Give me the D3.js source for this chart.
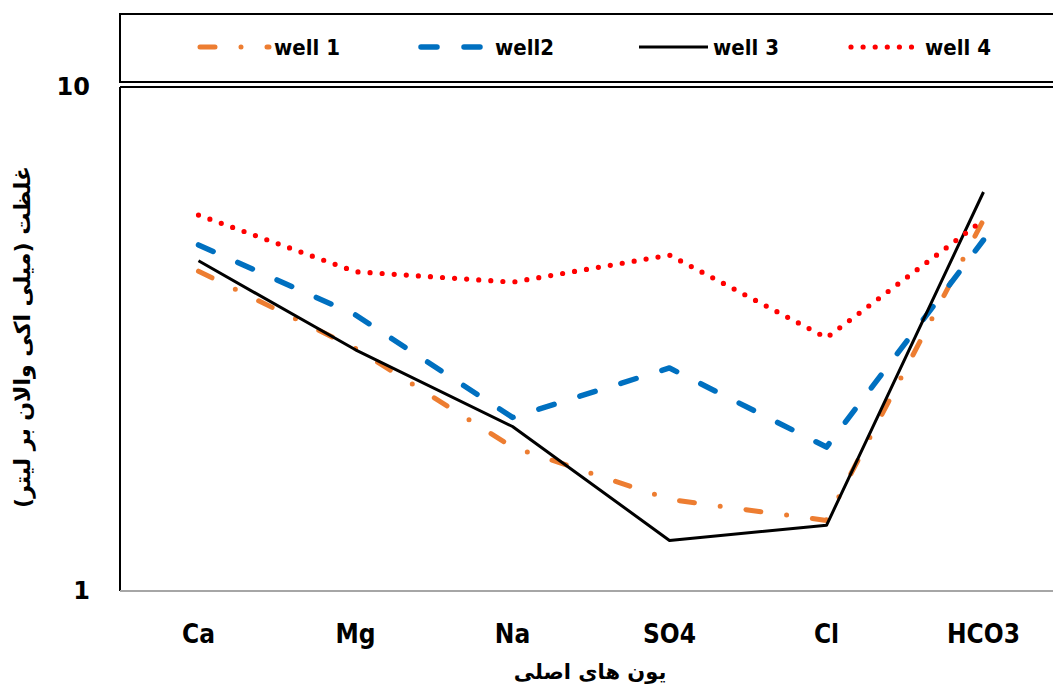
<!DOCTYPE html>
<html>
<head>
<meta charset="utf-8">
<script src="https://cdn.jsdelivr.net/npm/d3@7"></script>
<style>
  body { margin: 0; background: #fff; }
  svg { display: block; }
  text { font-family: "DejaVu Sans Condensed", "DejaVu Sans", sans-serif; font-weight: bold; }
</style>
</head>
<body>
<svg id="chart" width="1053" height="686"></svg>
<script>
const categories = ["Ca", "Mg", "Na", "SO4", "Cl", "HCO3"];
const well1 = [4.31, 3.03, 1.93, 1.52, 1.38, 5.45];
const well2 = [4.86, 3.53, 2.21, 2.77, 1.93, 4.97];
const well3 = [4.52, 3.01, 2.12, 1.26, 1.35, 6.19];
const well4 = [5.57, 4.30, 4.10, 4.64, 3.18, 5.45];
const seriesNames = ["well 1", "well2", "well 3", "well 4"];
const yTicks = [1, 10];
const xTitle = "یون های اصلی";
const yTitle = "غلظت (میلی اکی والان بر لیتر)";

const styles = [
  { color: "#ED7D31", width: 5, dash: "15,26,0,26", cap: "round" },
  { color: "#0070C0", width: 5.5, dash: "16,27", cap: "round" },
  { color: "#000000", width: 3, dash: null, cap: "butt" },
  { color: "#FF0000", width: 5.2, dash: "0,12.1", cap: "round" }
];
const seriesData = [well1, well2, well3, well4];

const svg = d3.select("#chart");
const pLeft = 120, pRight = 1062, pTop = 87, pBottom = 591;

const x = d3.scaleBand().domain(categories).range([pLeft, pRight]);
const y = d3.scaleLog().domain([1, 10]).range([pBottom, pTop]);

// legend box
svg.append("rect").attr("x", 120).attr("y", 14).attr("width", 1000).attr("height", 68)
  .attr("fill", "#fff").attr("stroke", "#000").attr("stroke-width", 2);

// plot frame
svg.append("line").attr("x1", pLeft).attr("x2", pLeft).attr("y1", pTop).attr("y2", pBottom)
  .attr("stroke", "#000").attr("stroke-width", 2);
svg.append("line").attr("x1", pLeft).attr("x2", 1060).attr("y1", pTop).attr("y2", pTop)
  .attr("stroke", "#000").attr("stroke-width", 2);
svg.append("line").attr("x1", pLeft).attr("x2", 1060).attr("y1", pBottom).attr("y2", pBottom)
  .attr("stroke", "#a6a6a6").attr("stroke-width", 2);

// y axis labels
const yAxis = d3.axisLeft(y).tickValues(yTicks).tickFormat(d3.format("d")).tickSize(0).tickPadding(0);
const gy = svg.append("g").attr("transform", "translate(90,0)").call(yAxis);
gy.select(".domain").remove();
gy.selectAll("text").attr("font-size", 24).attr("fill", "#000")
  .style("font-family", '"DejaVu Sans", sans-serif').style("font-weight", "bold");

// x axis labels
const xAxis = d3.axisBottom(x).tickSize(0).tickPadding(0);
const gx = svg.append("g").attr("transform", "translate(0,625)").call(xAxis);
gx.select(".domain").remove();
gx.selectAll("text").attr("font-size", 26).attr("fill", "#000")
  .style("font-family", '"DejaVu Sans Condensed", "DejaVu Sans", sans-serif').style("font-weight", "bold");

// lines
const line = d3.line().x((d, i) => x(categories[i]) + x.bandwidth() / 2).y(d => y(d));
seriesData.forEach((data, k) => {
  const s = styles[k];
  svg.append("path").datum(data).attr("d", line)
    .attr("fill", "none").attr("stroke", s.color).attr("stroke-width", s.width)
    .attr("stroke-linecap", s.cap).attr("stroke-linejoin", "round")
    .attr("stroke-dasharray", s.dash);
});

// legend items
const legX = [197, 418, 636, 848];
seriesNames.forEach((name, k) => {
  const s = styles[k];
  svg.append("line").attr("x1", legX[k] + 3).attr("x2", legX[k] + 72).attr("y1", 47).attr("y2", 47)
    .attr("stroke", s.color).attr("stroke-width", s.width)
    .attr("stroke-linecap", s.cap).attr("stroke-dasharray", s.dash);
  svg.append("text").attr("x", legX[k] + 77).attr("y", 47).attr("dy", "0.35em")
    .attr("font-size", 22).attr("fill", "#000").text(name);
});

// axis titles
svg.append("text").attr("x", 590).attr("y", 672).attr("dy", "0.35em").attr("text-anchor", "middle")
  .attr("font-size", 21).attr("fill", "#000").attr("direction", "rtl")
  .style("font-family", '"DejaVu Sans", sans-serif').text(xTitle);
svg.append("text").attr("transform", "translate(22,337) rotate(-90)").attr("dy", "0.35em")
  .attr("text-anchor", "middle").attr("font-size", 22).attr("fill", "#000")
  .style("font-family", '"DejaVu Sans", sans-serif').text(yTitle);
</script>
</body>
</html>
